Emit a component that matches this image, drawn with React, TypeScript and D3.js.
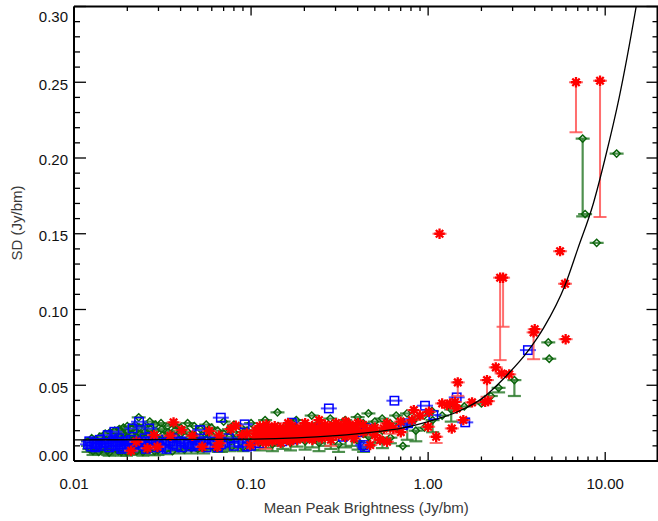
import React from 'react';
import * as d3 from 'd3';

type Pt = [number, number, number?];

// [mean peak brightness, SD, lower end of error bar (optional)]
const GREEN: Pt[] = [
  [0.0120,0.0130],[0.0120,0.0100,0.0060],[0.0122,0.0080],
  [0.0126,0.0150],[0.0126,0.0110,0.0070],[0.0128,0.0065,0.0040],
  [0.0132,0.0140],[0.0132,0.0090,0.0050],[0.0135,0.0120],[0.0138,0.0060],
  [0.0140,0.0160],[0.0140,0.0120],[0.0142,0.0080,0.0045],[0.0145,0.0100],
  [0.0150,0.0180],[0.0150,0.0130,0.0080],[0.0153,0.0100],[0.0155,0.0070,0.0040],[0.0158,0.0055,0.0035],
  [0.0160,0.0190],[0.0160,0.0150],[0.0163,0.0110,0.0060],[0.0165,0.0090],
  [0.0170,0.0200],[0.0170,0.0160,0.0100],[0.0172,0.0120],[0.0175,0.0080,0.0045],[0.0178,0.0065],
  [0.0180,0.0210],[0.0180,0.0170],[0.0182,0.0130,0.0070],[0.0185,0.0100],[0.0185,0.0060,0.0035],
  [0.0190,0.0220],[0.0190,0.0180,0.0110],[0.0193,0.0140],[0.0195,0.0110,0.0050],[0.0198,0.0060,0.0035],
  [0.0200,0.0230],[0.0200,0.0190],[0.0203,0.0150,0.0090],[0.0205,0.0120],[0.0208,0.0080,0.0040],
  [0.0212,0.0210],[0.0212,0.0170,0.0100],[0.0215,0.0130],[0.0218,0.0090,0.0045],
  [0.0222,0.0240],[0.0222,0.0200],[0.0225,0.0160,0.0090],[0.0226,0.0065],[0.0228,0.0110],
  [0.0232,0.0288],[0.0234,0.0220],[0.0236,0.0180,0.0110],[0.0238,0.0140],[0.0240,0.0100,0.0050],
  [0.0245,0.0060,0.0035],[0.0250,0.0230],[0.0250,0.0190],[0.0253,0.0150,0.0085],[0.0256,0.0120],[0.0258,0.0080,0.0040],
  [0.0265,0.0075],[0.0268,0.0260],[0.0270,0.0210],[0.0272,0.0170,0.0100],[0.0275,0.0130],
  [0.0285,0.0065,0.0038],[0.0288,0.0240],[0.0290,0.0200],[0.0292,0.0160,0.0090],[0.0295,0.0110],[0.0298,0.0070,0.0040],
  [0.0310,0.0250],[0.0312,0.0210],[0.0315,0.0170,0.0100],[0.0318,0.0130],[0.0330,0.0075,0.0045],
  [0.0338,0.0230],[0.0340,0.0190],[0.0342,0.0150,0.0085],[0.0345,0.0100],[0.0360,0.0065],
  [0.0368,0.0240],[0.0370,0.0200],[0.0372,0.0160,0.0090],[0.0375,0.0120],[0.0390,0.0090,0.0050],
  [0.0400,0.0220],[0.0402,0.0180],[0.0405,0.0140,0.0075],[0.0420,0.0075],
  [0.0438,0.0250],[0.0440,0.0190],[0.0443,0.0150,0.0085],[0.0446,0.0110],[0.0460,0.0085,0.0050],
  [0.0478,0.0230],[0.0480,0.0170],[0.0483,0.0130,0.0070],[0.0500,0.0080],
  [0.0518,0.0210],[0.0520,0.0160],[0.0523,0.0120,0.0065],[0.0540,0.0090,0.0050],
  [0.0558,0.0240],[0.0560,0.0190],[0.0563,0.0140,0.0080],
  [0.0598,0.0220],[0.0600,0.0170],[0.0603,0.0130,0.0070],[0.0620,0.0085],
  [0.0648,0.0200],[0.0650,0.0150],[0.0653,0.0110,0.0060],[0.0680,0.0090,0.0060],
  [0.0700,0.0260],[0.0702,0.0180],[0.0705,0.0140,0.0080],
  [0.0750,0.0210],[0.0752,0.0160],[0.0755,0.0120,0.0065],[0.0780,0.0095],
  [0.0800,0.0240],[0.0802,0.0190],[0.0805,0.0140,0.0085],
  [0.0880,0.0220],[0.0882,0.0160],[0.0885,0.0120,0.0070],[0.0900,0.0090,0.0065],
  [0.0950,0.0200],[0.0952,0.0150,0.0090],
  [0.100,0.0250],[0.101,0.0180],[0.102,0.0130,0.0075],
  [0.110,0.0220],[0.111,0.0160],[0.112,0.0120,0.0070],
  [0.120,0.0270],[0.121,0.0190],[0.122,0.0140,0.0085],
  [0.130,0.0210],[0.131,0.0150],[0.132,0.0110,0.0065],
  [0.141,0.0321],[0.142,0.0230],[0.143,0.0170,0.0100],
  [0.150,0.0200],[0.151,0.0140,0.0080],
  [0.165,0.0240],[0.166,0.0180],[0.167,0.0120,0.0070],
  [0.180,0.0270],[0.181,0.0210],[0.182,0.0160,0.0095],
  [0.200,0.0230],[0.201,0.0180],[0.202,0.0130,0.0075],
  [0.220,0.0300],[0.221,0.0200],[0.222,0.0150,0.0090],
  [0.240,0.0250],[0.241,0.0190],[0.242,0.0120,0.0065],
  [0.260,0.0220],[0.261,0.0160,0.0100],
  [0.280,0.0280],[0.281,0.0210],[0.282,0.0140,0.0080],
  [0.310,0.0240],[0.311,0.0180],[0.312,0.0110,0.0060],
  [0.340,0.0270],[0.341,0.0200],[0.342,0.0150,0.0090],
  [0.370,0.0230],[0.371,0.0170,0.0100],
  [0.400,0.0290],[0.401,0.0210],[0.402,0.0130,0.0075],
  [0.430,0.0250],[0.431,0.0180],[0.432,0.0090,0.0060],
  [0.460,0.0314],[0.461,0.0220],[0.462,0.0160,0.0100],
  [0.500,0.0260],[0.501,0.0190,0.0120],
  [0.550,0.0280],[0.551,0.0200],[0.552,0.0140,0.0085],
  [0.610,0.0250],[0.612,0.0154,0.0117],
  [0.660,0.0300],[0.661,0.0220],
  [0.720,0.0099],[0.722,0.0260],
  [0.760,0.0314],[0.762,0.0240,0.0140],
  [0.850,0.0280],[0.852,0.0200,0.0130],
  [0.950,0.0300],[0.952,0.0220],
  [1.05,0.0330],[1.06,0.0270,0.0190],
  [1.20,0.0300],[1.35,0.0340,0.0260],[1.60,0.0360],
  [2.00,0.0380],[2.26,0.0429],[2.50,0.0483,0.0453],[3.07,0.0534,0.0429],
  [4.77,0.0783],[4.83,0.0675],
  [7.46,0.2128,0.1615],[7.70,0.1630],[8.95,0.1440],[11.6,0.2029],
];

const BLUE: Pt[] = [
  [0.0120,0.0110],[0.0122,0.0130],[0.0125,0.0095],[0.0130,0.0120],[0.0132,0.0090],[0.0135,0.0110],
  [0.0140,0.0140],[0.0142,0.0100],[0.0148,0.0120],
  [0.0155,0.0171],[0.0153,0.0120],[0.0158,0.0090],[0.0162,0.0105],[0.0169,0.0193],[0.0166,0.0130],[0.0172,0.0100],
  [0.0176,0.0125],[0.0180,0.0150],[0.0182,0.0110],[0.0185,0.0080],[0.0190,0.0090],[0.0195,0.0130],[0.0198,0.0100],
  [0.0205,0.0115],[0.0214,0.0215],[0.0210,0.0140],[0.0216,0.0090],[0.0220,0.0105],[0.0233,0.0259],[0.0230,0.0120],
  [0.0240,0.0130],[0.0250,0.0150],[0.0252,0.0100],[0.0255,0.0080],[0.0260,0.0110],[0.0266,0.0215],[0.0268,0.0130],
  [0.0280,0.0110],[0.0283,0.0090],[0.0290,0.0120],[0.0300,0.0140],[0.0303,0.0100],[0.0310,0.0090],
  [0.0330,0.0120],[0.0333,0.0080],[0.0350,0.0130],[0.0360,0.0150],[0.0363,0.0110],[0.0380,0.0100],
  [0.0400,0.0130],[0.0403,0.0090],[0.0420,0.0120],[0.0440,0.0110],[0.0460,0.0095],
  [0.0480,0.0140],[0.0483,0.0100],[0.0500,0.0110],[0.0515,0.0204],[0.0518,0.0120],[0.0540,0.0130],
  [0.0560,0.0090],[0.0580,0.0110],[0.0620,0.0130],[0.0650,0.0090],
  [0.0675,0.0286],[0.0678,0.0110],[0.0700,0.0120],[0.0750,0.0150],[0.0800,0.0100],[0.0850,0.0120],
  [0.0900,0.0130],[0.0920,0.0242],[0.0950,0.0095],[0.1000,0.0100],
  [0.111,0.0117],[0.126,0.0215],[0.150,0.0130],[0.170,0.0253],[0.174,0.0143],[0.210,0.0180],
  [0.240,0.0216],[0.275,0.0347],[0.330,0.0160],[0.400,0.0190],[0.430,0.0105],[0.450,0.0215],
  [0.440,0.0092],[0.645,0.0398],[0.720,0.0237],[0.770,0.0249],[0.960,0.0365],[1.07,0.0303],
  [1.45,0.0420],[1.62,0.0255],[3.66,0.0732],
];

const RED: Pt[] = [
  [0.0210,0.0068],[0.0225,0.0127],[0.0260,0.0084],[0.0283,0.0171],[0.0296,0.0094],
  [0.0350,0.0167],[0.0365,0.0255],[0.0405,0.0204],[0.0466,0.0167],[0.0530,0.0094],
  [0.0580,0.0198],[0.0645,0.0094],[0.0660,0.0167],[0.0662,0.0117],[0.0767,0.0211],
  [0.0820,0.0233],[0.0887,0.0171],[0.0947,0.0182],[0.0990,0.0105],
  [0.105,0.016],[0.106,0.020],[0.110,0.013],[0.111,0.018],[0.112,0.023],
  [0.115,0.015],[0.116,0.021],[0.120,0.017],[0.121,0.012,0.008],[0.122,0.024],
  [0.125,0.019],[0.126,0.014],[0.130,0.021],[0.131,0.016],[0.132,0.013],
  [0.135,0.018],[0.136,0.023],[0.140,0.015],[0.141,0.020],
  [0.145,0.017],[0.146,0.022],[0.147,0.012],[0.150,0.019],[0.151,0.014],
  [0.160,0.021],[0.161,0.016],[0.162,0.025],[0.165,0.018],[0.166,0.013],
  [0.170,0.020],[0.171,0.023],[0.180,0.016],[0.181,0.019],[0.182,0.014],
  [0.190,0.022],[0.191,0.018],[0.200,0.020],[0.201,0.015],[0.202,0.025],
  [0.210,0.017],[0.211,0.021],[0.220,0.019],[0.221,0.023],[0.222,0.014],
  [0.230,0.016],[0.231,0.020],[0.240,0.022],[0.241,0.018],[0.242,0.027],
  [0.250,0.019],[0.251,0.015],[0.260,0.021],[0.261,0.024],[0.270,0.017],[0.271,0.020],
  [0.280,0.023],[0.281,0.019],[0.282,0.014,0.010],[0.300,0.021],[0.301,0.025],[0.302,0.017],
  [0.320,0.019],[0.321,0.023],[0.340,0.016],[0.341,0.021],[0.342,0.026],
  [0.360,0.020],[0.361,0.024],[0.380,0.0185],[0.381,0.022],[0.382,0.015],
  [0.400,0.0204],[0.401,0.025],[0.430,0.0237],[0.431,0.019],[0.470,0.0204],[0.471,0.0105],
  [0.500,0.022],[0.501,0.017],[0.535,0.0138],[0.561,0.0215],[0.585,0.0249],[0.586,0.0127],
  [0.610,0.0226,0.0180],[0.635,0.0215],[0.700,0.026],[0.701,0.019],[0.810,0.027],[0.830,0.0336],
  [0.900,0.030],[1.00,0.0226],[1.01,0.0325],[1.11,0.016,0.0119],[1.16,0.150],
  [1.20,0.038],[1.28,0.037],[1.33,0.038],[1.36,0.0215],[1.42,0.039],[1.45,0.0347],
  [1.47,0.0519,0.0430],[1.58,0.027],[1.77,0.0387],[2.10,0.039],[2.15,0.0534,0.0424],[2.18,0.0395],
  [2.41,0.0618],[2.55,0.121,0.0666],[2.60,0.0578],[2.65,0.121,0.0886],[2.87,0.0572],
  [3.94,0.0849,0.0672],[4.00,0.087],[5.56,0.1385],[5.93,0.117],[5.98,0.0804],
  [6.84,0.250,0.217],[9.35,0.251,0.161],
];

// fit curve
const FIT_X = [0.01, 0.03, 0.1, 0.3, 0.5, 0.7, 1.0, 1.5, 2.0, 2.7, 3.66, 4.5, 5.93, 7.0, 8.57, 10, 12, 14.9, 16];
const FIT_Y = [0.0140, 0.0141, 0.0144, 0.0167, 0.0192, 0.0215, 0.026, 0.033, 0.041, 0.055, 0.0725, 0.088, 0.116, 0.140, 0.170, 0.200, 0.240, 0.2987, 0.32];

const X_TICKS = [0.01, 0.1, 1, 10];
const X_TICK_LABELS = ['0.01', '0.10', '1.00', '10.00'];
const Y_TICKS = [0, 0.05, 0.1, 0.15, 0.2, 0.25, 0.3];
const Y_TICK_LABELS = ['0.00', '0.05', '0.10', '0.15', '0.20', '0.25', '0.30'];

const W = 658, H = 521;
const L = 74, R = 658.5, T = 6.5, B = 461;
const FONT = "'Liberation Sans', Arial, Helvetica, sans-serif";

const GREEN_C = '#0a640a', GREEN_L = '#2f7d2f';
const BLUE_C = '#0000ff', BLUE_L = '#2a2aff';
const RED_C = '#ff0000', RED_L = '#ff4a4a';

export default function App() {
  const x = d3.scaleLog().domain([0.01, 20]).range([L, R]);
  const y = d3.scaleLinear().domain([0, 0.3]).range([B, T]);

  const xMinor = x.ticks().filter(v => !X_TICKS.some(t => Math.abs(t - v) / t < 1e-6));
  const yMinor = d3.range(0, 0.3001, 0.01).filter(v => !Y_TICKS.some(t => Math.abs(t - v) < 1e-6));

  const fitLine = d3.line<number>()
    .x((_, i) => x(FIT_X[i]))
    .y(d => y(d))
    .curve(d3.curveMonotoneX);

  const bars = (data: Pt[], col: string, hw: number, cap: number, op: number, sw: number) => (
    <g stroke={col} strokeOpacity={op} strokeWidth={sw} fill="none">
      {data.map((p, i) => {
        const cx = x(p[0]), cy = y(p[1]);
        return (
          <g key={i}>
            <line x1={cx - hw} x2={cx + hw} y1={cy} y2={cy} />
            {p[2] !== undefined && (
              <>
                <line x1={cx} x2={cx} y1={cy} y2={y(p[2] as number)} />
                <line x1={cx - cap} x2={cx + cap} y1={y(p[2] as number)} y2={y(p[2] as number)} />
              </>
            )}
          </g>
        );
      })}
    </g>
  );

  const s = 5.2, dd = 3.7;
  const star = `M${-s},0H${s}M0,${-s}V${s}M${-dd},${-dd}L${dd},${dd}M${-dd},${dd}L${dd},${-dd}`;

  return (
    <>
      <style>{`body{margin:0}`}</style>
      <svg width={W} height={H} style={{ display: 'block', background: '#fff' }} fontFamily={FONT}>
        <defs>
          <clipPath id="plot">
            <rect x={L} y={T} width={R - L} height={B - T} />
          </clipPath>
        </defs>
        <g clipPath="url(#plot)">
          {/* green series */}
          {bars(GREEN, GREEN_L, 7, 6.5, 0.85, 2.2)}
          <g stroke={GREEN_C} strokeWidth={1.5} fill="none">
            {GREEN.map((p, i) => {
              const cx = x(p[0]), cy = y(p[1]);
              return <path key={i} d={`M${cx},${cy - 3.6}L${cx + 3.6},${cy}L${cx},${cy + 3.6}L${cx - 3.6},${cy}Z`} />;
            })}
          </g>
          {/* blue series */}
          {bars(BLUE, BLUE_L, 8, 6.5, 0.85, 2)}
          <g stroke={BLUE_C} strokeWidth={1.5} fill="none">
            {BLUE.map((p, i) => {
              const cx = x(p[0]), cy = y(p[1]);
              return <rect key={i} x={cx - 4.2} y={cy - 4.2} width={8.4} height={8.4} />;
            })}
          </g>
          {/* red series */}
          {bars(RED, RED_L, 7, 6.5, 0.8, 2)}
          <g stroke={RED_C} strokeWidth={2.3} fill="none">
            {RED.map((p, i) => (
              <path key={i} d={star} transform={`translate(${x(p[0])},${y(p[1])})`} />
            ))}
          </g>
          {/* fit */}
          <path d={fitLine(FIT_Y) || ''} fill="none" stroke="#000" strokeWidth={1.3} />
        </g>

        {/* frame */}
        <g stroke="#000" strokeWidth={2} fill="none">
          <line x1={L} x2={R} y1={B} y2={B} />
          <line x1={L} x2={R} y1={T} y2={T} />
          <line x1={L} x2={L} y1={T} y2={B} />
          <line x1={R - 1} x2={R - 1} y1={T} y2={B} />
        </g>
        <g stroke="#000" strokeWidth={1.3}>
          {X_TICKS.map(v => (
            <g key={'xm' + v}>
              <line x1={x(v)} x2={x(v)} y1={B} y2={B - 9} />
              <line x1={x(v)} x2={x(v)} y1={T} y2={T + 9} />
            </g>
          ))}
          {xMinor.map(v => (
            <g key={'xn' + v}>
              <line x1={x(v)} x2={x(v)} y1={B} y2={B - 4.5} />
              <line x1={x(v)} x2={x(v)} y1={T} y2={T + 4.5} />
            </g>
          ))}
          {Y_TICKS.map(v => (
            <g key={'ym' + v}>
              <line x1={L} x2={L + 12} y1={y(v)} y2={y(v)} />
              <line x1={R} x2={R - 12} y1={y(v)} y2={y(v)} />
            </g>
          ))}
          {yMinor.map(v => (
            <g key={'yn' + v}>
              <line x1={L} x2={L + 6} y1={y(v)} y2={y(v)} />
              <line x1={R} x2={R - 6} y1={y(v)} y2={y(v)} />
            </g>
          ))}
        </g>

        {/* tick labels */}
        <g fontSize={15} fill="#111">
          {X_TICKS.map((v, i) => (
            <text key={'xl' + v} x={x(v)} y={489} textAnchor="middle">{X_TICK_LABELS[i]}</text>
          ))}
          {Y_TICKS.map((v, i) => {
            const cy = Math.min(Math.max(y(v) + 2, T + 10), B - 5.5);
            return (
              <text key={'yl' + v} x={68} y={cy} dy="0.36em" textAnchor="end">{Y_TICK_LABELS[i]}</text>
            );
          })}
        </g>

        {/* axis titles */}
        <text x={(L + R) / 2} y={513} textAnchor="middle" fontSize={15} fill="#3a3a3a">
          Mean Peak Brightness (Jy/bm)
        </text>
        <text transform={`translate(22,223) rotate(-90)`} textAnchor="middle" fontSize={15} fill="#3a3a3a">
          SD (Jy/bm)
        </text>
      </svg>
    </>
  );
}
